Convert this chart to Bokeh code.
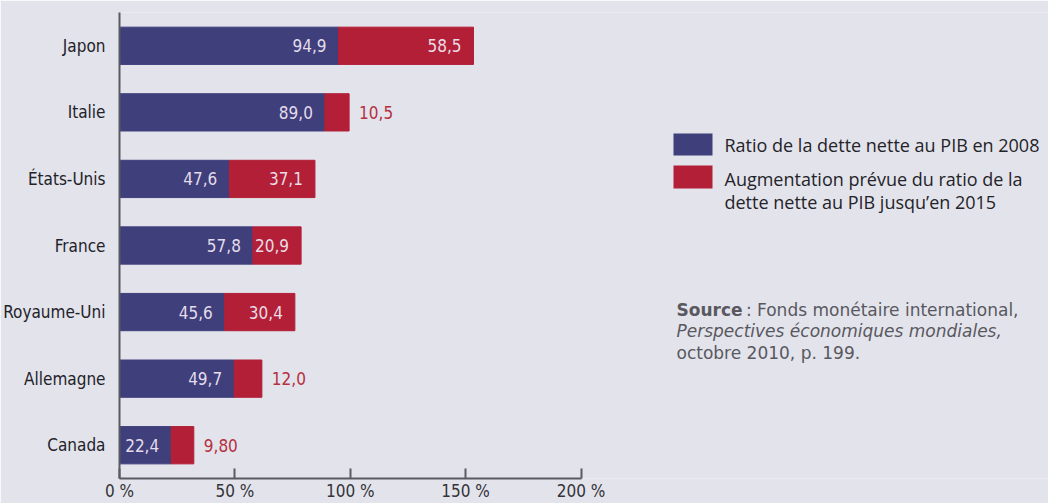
import numpy as np
from bokeh.plotting import figure
from bokeh.models import (ColumnDataSource, FactorRange, Range1d, FixedTicker,
                          PrintfTickFormatter, Label, BoxAnnotation)
from bokeh.core.properties import value
from bokeh.embed import file_html
from bokeh.resources import INLINE

# ---- data ----
countries = ["Japon", "Italie", "États-Unis", "France", "Royaume-Uni", "Allemagne", "Canada"]
ratio_2008 = [94.9, 89.0, 47.6, 57.8, 45.6, 49.7, 22.4]
increase_2015 = [58.5, 10.5, 37.1, 20.9, 30.4, 12.0, 9.80]
labels_2008 = ["94,9", "89,0", "47,6", "57,8", "45,6", "49,7", "22,4"]
labels_increase = ["58,5", "10,5", "37,1", "20,9", "30,4", "12,0", "9,80"]
x_ticks = [0, 50, 100, 150, 200]
legend_labels = ["Ratio de la dette nette au PIB en 2008",
                 "Augmentation prévue du ratio de la",
                 "dette nette au PIB jusqu’en 2015"]

BG = "#e3e3ec"
BLUE = "#3f3f7c"
RED = "#b21f37"
COND = "DejaVu Sans Condensed, Roboto, sans-serif"
SANS = "Open Sans"

base = np.array(ratio_2008)
inc = np.array(increase_2015)
total = base + inc
outside = inc < 15

src = ColumnDataSource(dict(
    country=countries, base=base, total=total,
    lbl_base=labels_2008, lbl_inc=labels_increase,
))
in_src = ColumnDataSource(dict(
    country=[c for c, o in zip(countries, outside) if not o],
    total=[t for t, o in zip(total, outside) if not o],
    lbl=[l for l, o in zip(labels_increase, outside) if not o],
))
out_src = ColumnDataSource(dict(
    country=[c for c, o in zip(countries, outside) if o],
    total=[t for t, o in zip(total, outside) if o],
    lbl=[l for l, o in zip(labels_increase, outside) if o],
))

p = figure(
    y_range=FactorRange(*reversed(countries), range_padding=0),
    x_range=Range1d(0, 402.6),
    width=1048, height=503,
    min_border_left=118, min_border_right=0, min_border_top=12, min_border_bottom=0,
    output_backend="svg", toolbar_location=None,
    background_fill_color=BG, border_fill_color=BG,
)
p.outline_line_color = None
p.grid.visible = False

p.hbar(y="country", left=0, right="base", height=0.56, color=BLUE, source=src)
p.hbar(y="country", left="base", right="total", height=0.56, color=RED, source=src)

p.text(x="base", y="country", text="lbl_base", source=src, x_offset=-12,
       text_align="right", text_baseline="middle", text_color="#e4dcea",
       text_font=value(COND), text_font_size="17px")
p.text(x="total", y="country", text="lbl", source=in_src, x_offset=-12,
       text_align="right", text_baseline="middle", text_color="#eadde6",
       text_font=value(COND), text_font_size="17px")
p.text(x="total", y="country", text="lbl", source=out_src, x_offset=10,
       text_align="left", text_baseline="middle", text_color="#b5303f",
       text_font=value(COND), text_font_size="17px")

# axes
xa = p.xaxis[0]
xa.ticker = FixedTicker(ticks=x_ticks)
xa.formatter = PrintfTickFormatter(format="%d %%")
xa.bounds = (0, 200)
xa.major_tick_in = 10
xa.major_tick_out = 0
xa.minor_tick_line_color = None
xa.axis_line_width = 2
xa.axis_line_color = "#5a5a62"
xa.major_tick_line_width = 2
xa.major_tick_line_color = "#5a5a62"
xa.major_label_text_font = COND
xa.major_label_text_font_size = "17px"
xa.major_label_text_color = "#333338"
xa.major_label_standoff = 2

ya = p.yaxis[0]
ya.major_tick_line_color = None
ya.minor_tick_line_color = None
ya.axis_line_width = 2
ya.axis_line_color = "#5a5a62"
ya.major_label_text_font = COND
ya.major_label_text_font_size = "17px"
ya.major_label_text_color = "#222228"
ya.major_label_standoff = 8

# legend (screen units relative to plot frame)
p.add_layout(BoxAnnotation(left=554, right=593, top=345, bottom=323,
                           left_units="screen", right_units="screen",
                           top_units="screen", bottom_units="screen",
                           fill_color=BLUE, fill_alpha=1, line_color=None))
p.add_layout(BoxAnnotation(left=554, right=593, top=313, bottom=290,
                           left_units="screen", right_units="screen",
                           top_units="screen", bottom_units="screen",
                           fill_color=RED, fill_alpha=1, line_color=None))
for txt, yy in zip(legend_labels, [334, 300, 277]):
    p.add_layout(Label(x=605, y=yy, x_units="screen", y_units="screen", text=txt,
                       text_font=SANS, text_font_size="18px", text_color="#232328",
                       text_baseline="middle", text_align="left"))

# source note
src_lines = [
    ("Source", 557, 169, "bold"),
    ("\u00a0: Fonds monétaire international,", 621, 169, "normal"),
    ("Perspectives économiques mondiales,", 557, 148, "italic"),
    ("octobre 2010, p. 199.", 557, 126, "normal"),
]
for txt, xx, yy, style in src_lines:
    p.add_layout(Label(x=xx, y=yy, x_units="screen", y_units="screen", text=txt,
                       text_font="DejaVu Sans", text_font_size="17px",
                       text_font_style=style, text_color="#58585e",
                       text_baseline="middle", text_align="left"))

html = file_html(p, INLINE)
html = html.replace("<body>", '<body style="background-color:%s;">' % BG, 1)
open("out.html", "w").write(html)
